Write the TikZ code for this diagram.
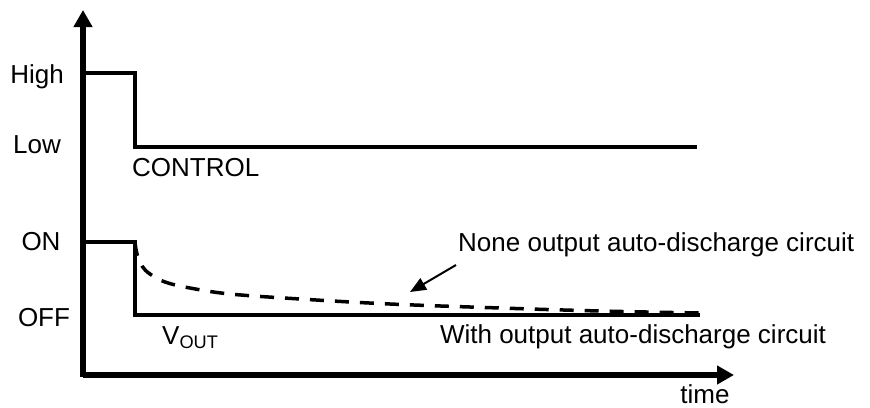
\documentclass[tikz,border=0pt]{standalone}
\usepackage{fontspec}
\setmainfont{Liberation Sans}
\usetikzlibrary{arrows.meta,positioning}

\begin{document}
\begin{tikzpicture}[
x=1pt, y=-1pt,
font=\fontsize{26}{31}\selectfont,
axis/.style={
  line width=5.5pt,
  -{Triangle[length=17pt,width=18pt]}
  },
signal/.style={
  line width=3.5pt,
  line join=miter
  },
nodischarge/.style={
  line width=3.5pt,
  dash pattern=on 14pt off 11pt
  },
lbl/.style={
  inner sep=0pt
  },
pointer/.style={
  line width=2pt,
  -{Triangle[length=16pt,width=13pt]}
  }
]
\useasboundingbox (0,0) rectangle (870,407);

% axes
\coordinate (origin) at (83,375);
\coordinate (ytop) at (83,10);
\coordinate (xend) at (734,375);
\draw[axis] (83,377) -- (ytop);
\draw[axis] (origin) -- (xend);

% levels
\node[lbl] (high) at (37,77) {High};
\node[lbl] (low) at (37,145) {Low};
\node[lbl] (on) at (41,242) {ON};
\node[lbl] (off) at (44,318) {OFF};
\node[lbl] (time) at (705,394) {time};

% CONTROL signal
\draw[signal] (85,73) -- (135,73) -- (135,147) -- (697,147);
\node[lbl, anchor=west] (control) at (132,168) {CONTROL};

% VOUT with discharge
\draw[signal] (85,242) -- (135,242) -- (135,315) -- (700,315);
\node[lbl, anchor=west] (vout) at (162,338) {V\textsubscript{OUT}};

% VOUT without discharge
\draw[nodischarge] plot[smooth, tension=0.6] coordinates {
  (135,242) (137,254) (142,266) (150,274) (165,282) (190,288)
  (230,294) (300,299) (390,304) (500,308) (600,311) (700,313)};

% labels of the two cases
\node[lbl, anchor=west] (none) at (458,245) {None output auto-discharge circuit};
\node[lbl] (with) at (633,337) {With output auto-discharge circuit};
\coordinate (dashtip) at (410,292);
\draw[pointer] (456,265) -- (dashtip);

\end{tikzpicture}
\end{document}
